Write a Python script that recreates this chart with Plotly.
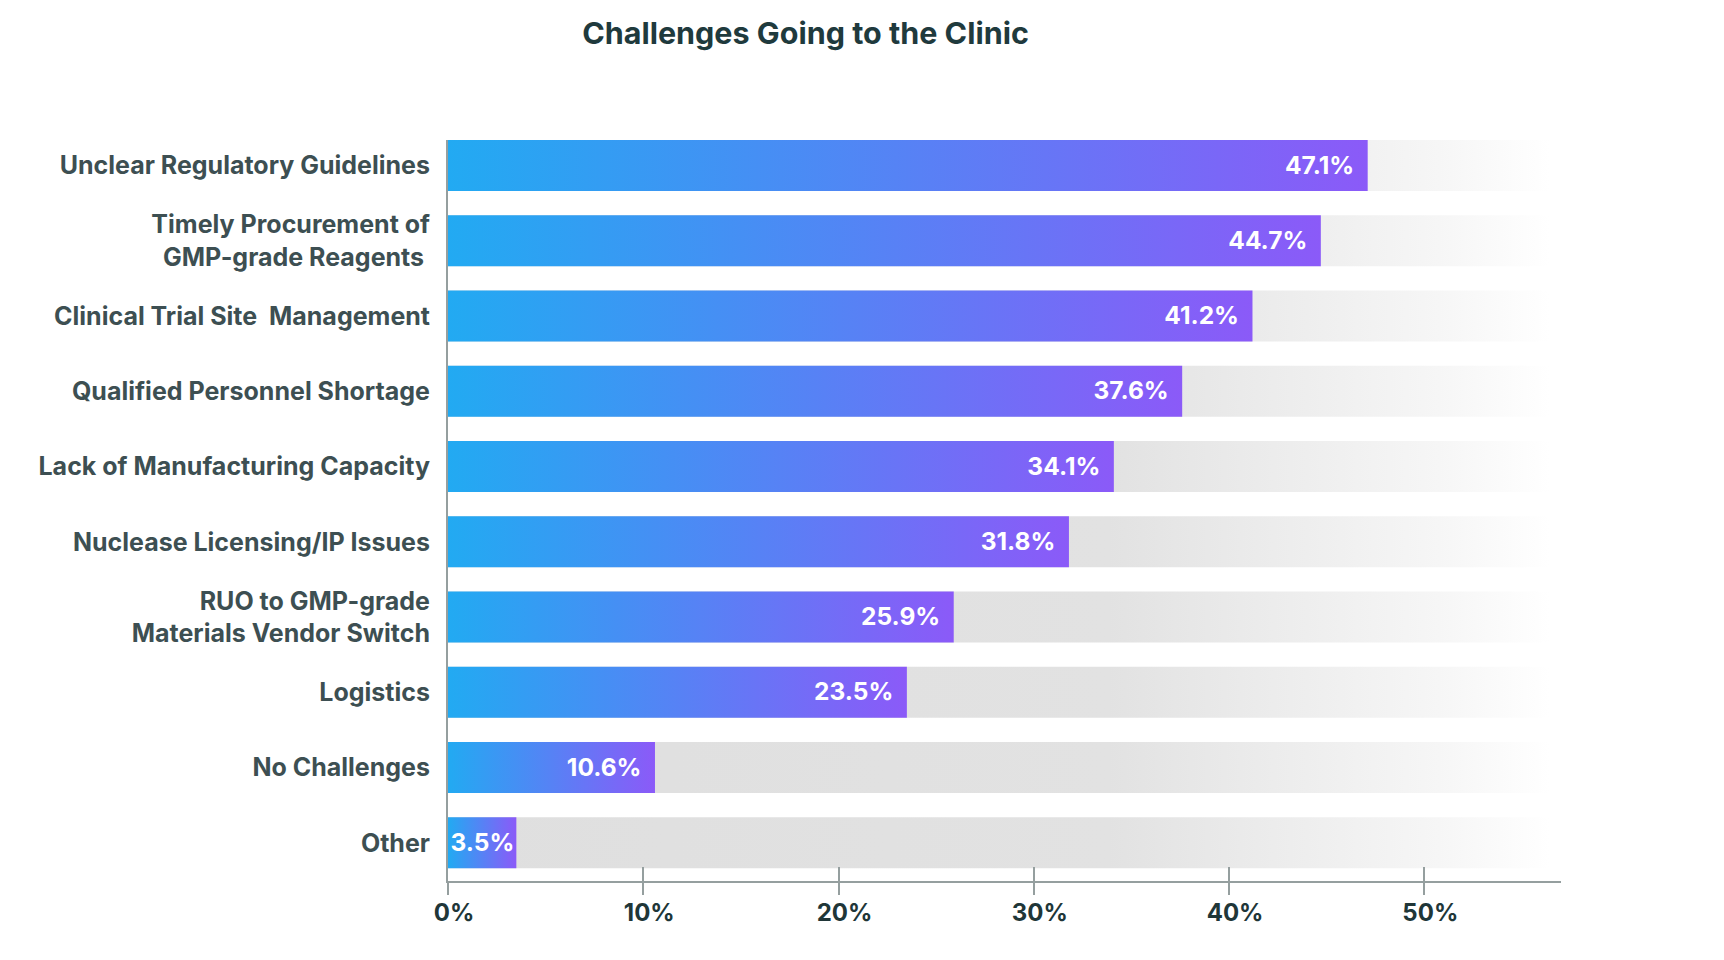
import plotly.graph_objects as go

# survey answers, top to bottom as shown
categories = [
    "Unclear Regulatory Guidelines",
    "Timely Procurement of<br>GMP-grade Reagents\u00a0",
    "Clinical Trial Site\u00a0 Management",
    "Qualified Personnel Shortage",
    "Lack of Manufacturing Capacity",
    "Nuclease Licensing/IP Issues",
    "RUO to GMP-grade<br>Materials Vendor Switch",
    "Logistics",
    "No Challenges",
    "Other",
]
pct = [47.1, 44.7, 41.2, 37.6, 34.1, 31.8, 25.9, 23.5, 10.6, 3.5]
x_ticks = [0, 10, 20, 30, 40, 50]
x_ticktext = ["0%", "10%", "20%", "30%", "40%", "50%"]

track_end = 56.4   # where the grey track has faded out
half = 0.339       # half bar thickness (in row units)
FONT = "Inter"
axis_grey = "#959f9f"

fig = go.Figure()

# grey background tracks, fading to white on the right
tx, ty = [], []
for i in range(len(categories)):
    tx += [0, track_end, track_end, 0, 0, None]
    ty += [i - half, i - half, i + half, i + half, i - half, None]
fig.add_trace(go.Scatter(
    x=tx, y=ty, mode="lines", fill="toself", line=dict(width=0),
    fillgradient=dict(type="horizontal",
                      colorscale=[[0, "#dfdfdf"], [0.6, "#e2e2e2"],
                                  [0.9, "#f6f6f6"], [1, "#ffffff"]]),
    hoverinfo="skip", showlegend=False))

# gradient bars, blue -> purple along each bar
for i, v in enumerate(pct):
    fig.add_trace(go.Scatter(
        x=[0, v, v, 0, 0], y=[i - half, i - half, i + half, i + half, i - half],
        mode="lines", fill="toself", line=dict(width=0),
        fillgradient=dict(type="horizontal",
                          colorscale=[[0, "#22aaf2"], [1, "#8b5af8"]]),
        name=categories[i], hoverinfo="skip", showlegend=False))

# value labels inside the bar ends (tiny bars get less padding)
fig.add_trace(go.Scatter(
    x=pct, y=[i + 0.025 for i in range(len(pct))], xaxis="x2",
    mode="markers+text", text=[f"{v}%" for v in pct],
    textposition="middle left",
    marker=dict(size=[20 if v > 6 else 1.6 for v in pct], opacity=0),
    textfont=dict(family=FONT, size=24.5, color="white", weight=700),
    hoverinfo="skip", showlegend=False))

# page body adds 8px, margins are set so the plot lands where the original is
fig.update_layout(
    width=1724, height=960,
    paper_bgcolor="white", plot_bgcolor="white",
    margin=dict(l=440, r=171, t=132, b=87),
    title=dict(text="Challenges Going to the Clinic", x=797.5 / 1724, xanchor="center",
               y=1 - 25 / 960, yanchor="middle",
               font=dict(family=FONT, size=30.5, color="#1f3a3d", weight=700)),
    xaxis=dict(range=[0, 57], tickvals=x_ticks, ticktext=x_ticktext,
               showline=True, linecolor=axis_grey, linewidth=2,
               ticks="outside", ticklen=12, tickwidth=2, tickcolor=axis_grey,
               showgrid=False, zeroline=False, ticklabelshift=6, ticklabelstandoff=-3,
               tickfont=dict(family=FONT, size=24, color="#203638", weight=700)),
    xaxis2=dict(matches="x", overlaying="x", side="bottom", anchor="y",
                tickvals=x_ticks, ticks="inside", ticklen=14, tickwidth=2,
                tickcolor=axis_grey, showticklabels=False, showline=False,
                showgrid=False, zeroline=False),
    yaxis=dict(range=[9.508, -0.339], tickvals=list(range(len(categories))),
               ticktext=categories, showline=True, linecolor=axis_grey, linewidth=2,
               ticks="", showgrid=False, zeroline=False, ticklabelstandoff=11,
               tickfont=dict(family=FONT, size=25, color="#3d4f52", weight=700)),
)

fig.write_html("out.html")
